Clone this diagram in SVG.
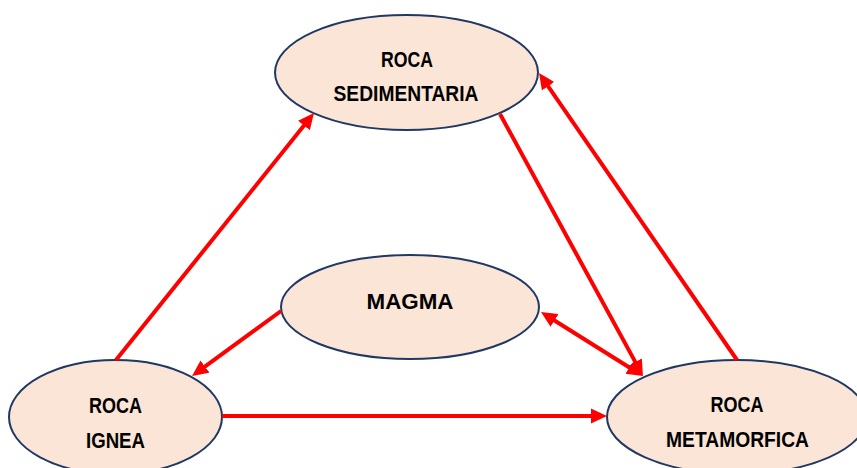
<svg xmlns="http://www.w3.org/2000/svg" width="857" height="468" viewBox="0 0 857 468">
<style>
.node{fill:#FBE5D6;stroke:#1F3864;stroke-width:2}
.lbl{font-family:"Liberation Sans",Arial,sans-serif;font-weight:bold;font-size:21.5px;fill:#000;text-anchor:middle}
.conn{stroke:#FF0000;stroke-width:4;fill:none}
</style>
<defs>
<marker id="ah" markerUnits="userSpaceOnUse" markerWidth="16" markerHeight="16" viewBox="0 0 16 16" refX="9" refY="8" orient="auto-start-reverse">
<path d="M0,0.5 L16,8 L0,15.5 z" fill="#FF0000"/>
</marker>
</defs>
<rect width="857" height="468" fill="#fff"/>
<g id="sedimentaria">
<ellipse class="node" cx="406.5" cy="72.5" rx="131.5" ry="57.5"/>
<text class="lbl" x="407" y="67" textLength="52" lengthAdjust="spacingAndGlyphs">ROCA</text>
<text class="lbl" x="406" y="101" textLength="145" lengthAdjust="spacingAndGlyphs">SEDIMENTARIA</text>
</g>
<g id="magma">
<ellipse class="node" cx="410" cy="307" rx="129" ry="52"/>
<text class="lbl" x="410" y="309" textLength="87" lengthAdjust="spacingAndGlyphs">MAGMA</text>
</g>
<g id="ignea">
<ellipse class="node" cx="115.5" cy="417" rx="106.5" ry="57"/>
<text class="lbl" x="115.5" y="413" textLength="53" lengthAdjust="spacingAndGlyphs">ROCA</text>
<text class="lbl" x="115.5" y="448" textLength="59" lengthAdjust="spacingAndGlyphs">IGNEA</text>
</g>
<g id="metamorfica">
<ellipse class="node" cx="737" cy="417" rx="130" ry="57"/>
<text class="lbl" x="737" y="412" textLength="53" lengthAdjust="spacingAndGlyphs">ROCA</text>
<text class="lbl" x="737.5" y="447" textLength="143" lengthAdjust="spacingAndGlyphs">METAMORFICA</text>
</g>
<g id="connectors">
<line class="conn" x1="116" y1="360" x2="309.6" y2="118.5" marker-end="url(#ah)"/>
<line class="conn" x1="500" y1="114" x2="639.6" y2="369.9" marker-end="url(#ah)"/>
<line class="conn" x1="737" y1="360" x2="543" y2="78.8" marker-end="url(#ah)"/>
<line class="conn" x1="281" y1="311" x2="197.7" y2="371.9" marker-start="" marker-end="url(#ah)"/>
<line class="conn" x1="546.9" y1="315.7" x2="637" y2="372.3" marker-start="url(#ah)" marker-end="url(#ah)"/>
<line class="conn" x1="222" y1="416" x2="600" y2="416" marker-end="url(#ah)"/>
</g>
</svg>
